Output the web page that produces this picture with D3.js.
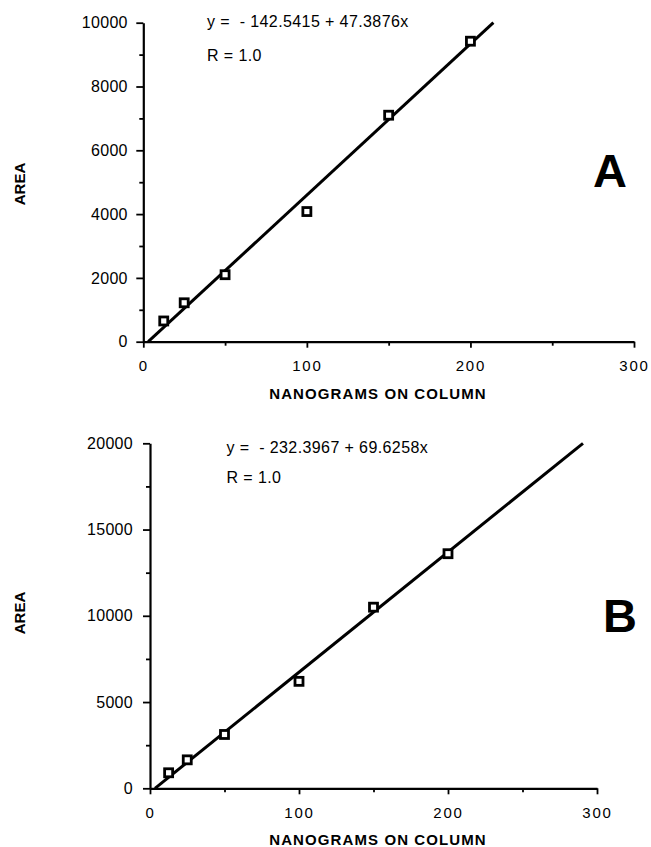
<!DOCTYPE html>
<html>
<head>
<meta charset="utf-8">
<script src="https://cdn.jsdelivr.net/npm/d3@7"></script>
<style>
  body { margin: 0; background: #fff; }
  svg { font-family: "Liberation Sans", Arial, Helvetica, sans-serif; }
</style>
</head>
<body>
<div id="chart"></div>
<script>
// Data
const nanograms = [12.5, 25, 50, 100, 150, 200];
const areaA = [650, 1220, 2100, 4080, 7100, 9420];
const areaB = [900, 1650, 3120, 6200, 10500, 13600];
const fitA = { b: -142.5415, m: 47.3876, label: "y =  - 142.5415 + 47.3876x", r: "R = 1.0" };
const fitB = { b: -232.3967, m: 69.6258, label: "y =  - 232.3967 + 69.6258x", r: "R = 1.0" };
const xTicks = [0, 100, 200, 300];
const xMinor = [50, 150, 250];
const yTicksA = [0, 2000, 4000, 6000, 8000, 10000];
const yMinorA = [1000, 3000, 5000, 7000, 9000];
const yTicksB = [0, 5000, 10000, 15000, 20000];
const yMinorB = [2500, 7500, 12500, 17500];

const svg = d3.select("#chart")
    .append("svg")
    .attr("width", 651)
    .attr("height", 847);

// one panel of the figure
function drawPanel(opt) {
    const x = d3.scaleLinear().domain([0, 300]).range(opt.xRange);
    const y = d3.scaleLinear().domain([0, opt.yMax]).range(opt.yRange);
    const g = svg.append("g");

    // minor ticks
    g.append("g")
        .attr("transform", `translate(0,${opt.yRange[0]})`)
        .call(d3.axisBottom(x).tickValues(xMinor).tickSize(4).tickFormat("").tickSizeOuter(0))
        .call(a => a.select(".domain").remove());
    g.append("g")
        .attr("transform", `translate(${opt.xRange[0]},0)`)
        .call(d3.axisLeft(y).tickValues(opt.yMinor).tickSize(4).tickFormat("").tickSizeOuter(0))
        .call(a => a.select(".domain").remove());

    // x axis
    const xa = g.append("g")
        .attr("transform", `translate(0,${opt.yRange[0]})`)
        .call(d3.axisBottom(x).tickValues(xTicks).tickFormat(d3.format("d"))
            .tickSize(6).tickPadding(13).tickSizeOuter(0));
    xa.selectAll("text")
        .style("font-size", "15px")
        .style("letter-spacing", "1.8px")
        .attr("fill", "#000");

    // y axis
    const ya = g.append("g")
        .attr("transform", `translate(${opt.xRange[0]},0)`)
        .call(d3.axisLeft(y).tickValues(opt.yTicks).tickFormat(d3.format("d"))
            .tickSize(7).tickPadding(opt.yPad).tickSizeOuter(0));
    ya.selectAll("text")
        .style("font-size", "16px")
        .style("letter-spacing", "0.3px")
        .attr("fill", "#000");

    g.selectAll(".domain").attr("stroke", "#000").attr("stroke-width", 2.2);
    g.selectAll(".tick line").attr("stroke", "#000").attr("stroke-width", 1.8);

    // fitted line, clipped to y range
    const x0 = (0 - opt.fit.b) / opt.fit.m;
    const x1 = (opt.yMax - opt.fit.b) / opt.fit.m;
    g.append("line")
        .attr("x1", x(x0)).attr("y1", y(0))
        .attr("x2", x(x1)).attr("y2", y(opt.yMax))
        .attr("stroke", "#000")
        .attr("stroke-width", 3);

    // square markers
    const pts = nanograms.map((n, i) => ({ n: n, a: opt.area[i] }));
    g.selectAll(".pt")
        .data(pts)
        .enter()
        .append("rect")
        .attr("class", "pt")
        .attr("x", d => x(d.n) - 4)
        .attr("y", d => y(d.a) - 4)
        .attr("width", 8)
        .attr("height", 8)
        .attr("fill", "#fff")
        .attr("stroke", "#000")
        .attr("stroke-width", 2.8);

    // equation
    g.append("text")
        .attr("x", opt.eqX)
        .attr("y", opt.eqY)
        .style("font-size", "16px")
        .style("letter-spacing", "0.4px")
        .style("white-space", "pre")
        .text(opt.fit.label);
    g.append("text")
        .attr("x", opt.eqX)
        .attr("y", opt.rY)
        .style("font-size", "16px")
        .style("letter-spacing", "0.4px")
        .text(opt.fit.r);

    // panel letter
    g.append("text")
        .attr("x", opt.letterX)
        .attr("y", opt.letterY)
        .style("font-size", "47px")
        .style("font-weight", "bold")
        .text(opt.letter);

    // axis titles
    g.append("text")
        .attr("x", 378)
        .attr("y", opt.titleY)
        .style("text-anchor", "middle")
        .style("font-size", "15px")
        .style("font-weight", "bold")
        .style("letter-spacing", "1.1px")
        .text("NANOGRAMS ON COLUMN");
    g.append("text")
        .attr("transform", "rotate(-90)")
        .attr("x", -opt.areaY)
        .attr("y", 25)
        .style("text-anchor", "middle")
        .style("font-size", "15px")
        .style("font-weight", "bold")
        .text("AREA");
}

drawPanel({
    xRange: [143.3, 634], yRange: [341.7, 22.7], yMax: 10000,
    yTicks: yTicksA, yMinor: yMinorA, yPad: 8.5,
    area: areaA, fit: fitA,
    eqX: 207, eqY: 27, rY: 61,
    letter: "A", letterX: 593, letterY: 187,
    titleY: 399, areaY: 184
});

drawPanel({
    xRange: [150, 597], yRange: [788.3, 443.3], yMax: 20000,
    yTicks: yTicksB, yMinor: yMinorB, yPad: 10,
    area: areaB, fit: fitB,
    eqX: 226.5, eqY: 453, rY: 483,
    letter: "B", letterX: 603, letterY: 632,
    titleY: 845, areaY: 613
});
</script>
</body>
</html>
